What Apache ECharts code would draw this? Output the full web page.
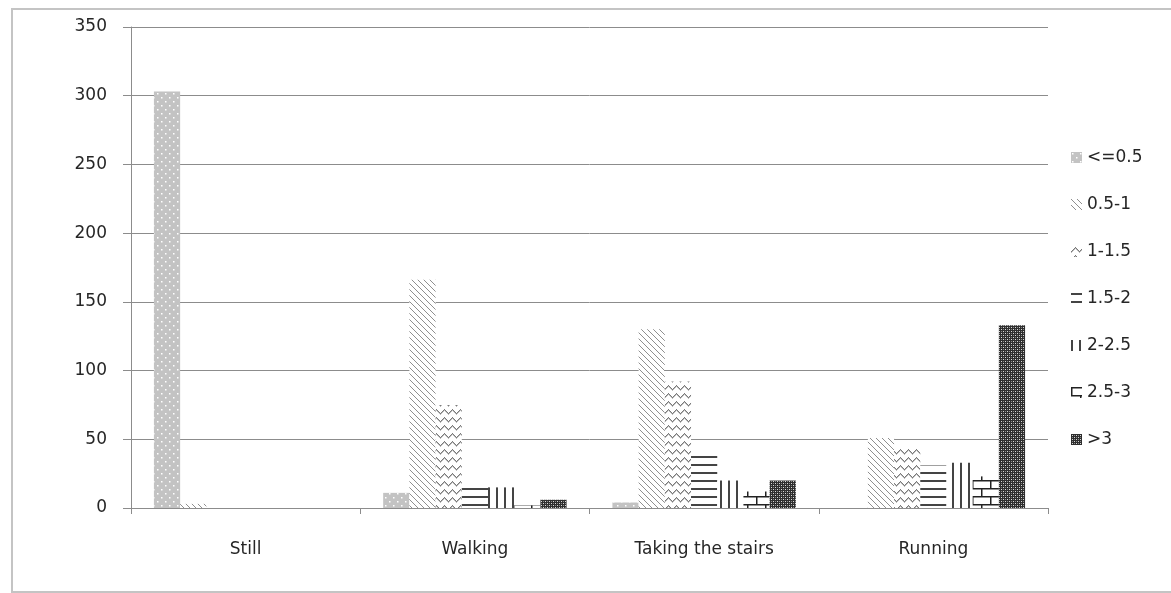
<!DOCTYPE html>
<html>
<head>
<meta charset="utf-8">
<script src="https://cdn.jsdelivr.net/npm/echarts@6/dist/echarts.min.js"></script>
<style>
  html, body { margin: 0; padding: 0; background: #fff; }
  #chart { width: 1171px; height: 593px; }
</style>
</head>
<body>
<div id="chart"></div>
<script>
// Activity categories and counts per speed band
const categories = ['Still', 'Walking', 'Taking the stairs', 'Running'];
const bandNames = ['<=0.5', '0.5-1', '1-1.5', '1.5-2', '2-2.5', '2.5-3', '>3'];

const bandLe05  = [303, 11, 4, 0];
const band05to1 = [3, 166, 130, 51];
const band1to15 = [0, 75, 92, 44];
const band15to2 = [0, 18, 42, 31];
const band2to25 = [0, 15, 20, 33];
const band25to3 = [0, 2, 12, 23];
const bandGt3   = [0, 6, 20, 133];

const yTicks = [0, 50, 100, 150, 200, 250, 300, 350];

// Monochrome fill patterns, one per speed band
function tile(w, h, draw) {
  const c = document.createElement('canvas');
  c.width = w; c.height = h;
  const g = c.getContext('2d');
  draw(g, w, h);
  return { image: c, repeat: 'repeat' };
}

const patterns = [
  // light grey with white dots
  tile(8, 8, (g) => {
    g.fillStyle = '#c3c3c3'; g.fillRect(0, 0, 8, 8);
    g.fillStyle = '#ffffff';
    g.fillRect(1, 1, 1.5, 1.5); g.fillRect(5, 5, 1.5, 1.5);
  }),
  // thin diagonal hatching
  tile(6, 6, (g) => {
    g.fillStyle = '#ffffff'; g.fillRect(0, 0, 6, 6);
    g.fillStyle = '#8f8f8f';
    for (let i = 0; i < 6; i++) g.fillRect(i, i, 1, 1);
  }),
  // zigzag chevrons
  tile(8, 8, (g) => {
    g.fillStyle = '#ffffff'; g.fillRect(0, 0, 8, 8);
    g.fillStyle = '#7a7a7a';
    for (let x = 0; x < 8; x++) g.fillRect(x, 1 + Math.abs(x - 4), 1, 1.5);
  }),
  // horizontal rules
  tile(8, 8, (g) => {
    g.fillStyle = '#ffffff'; g.fillRect(0, 0, 8, 8);
    g.fillStyle = '#444444'; g.fillRect(0, 0, 8, 2);
  }),
  // vertical rules
  tile(8, 8, (g) => {
    g.fillStyle = '#ffffff'; g.fillRect(0, 0, 8, 8);
    g.fillStyle = '#444444'; g.fillRect(0, 0, 2, 8);
  }),
  // brick outline
  tile(18, 16, (g) => {
    g.fillStyle = '#ffffff'; g.fillRect(0, 0, 18, 16);
    g.fillStyle = '#222222';
    g.fillRect(0, 0, 18, 1.5); g.fillRect(0, 8, 18, 1.5);
    g.fillRect(0, 0, 1.5, 8); g.fillRect(9, 8, 1.5, 8);
  }),
  // dense dark checker
  tile(4, 4, (g) => {
    g.fillStyle = '#2e2e2e'; g.fillRect(0, 0, 4, 4);
    g.fillStyle = '#d8d8d8'; g.fillRect(1, 1, 1, 1); g.fillRect(3, 3, 1, 1);
    g.fillStyle = '#8a8a8a'; g.fillRect(1, 3, 1, 1); g.fillRect(3, 1, 1, 1);
  })
];

const bandValues = [bandLe05, band05to1, band1to15, band15to2, band2to25, band25to3, bandGt3];

const textColor = '#262626';
const fontFamily = '"DejaVu Sans", Verdana, sans-serif';
const fontSize = 17;

const chart = echarts.init(document.getElementById('chart'), null, { renderer: 'canvas' });

chart.setOption({
  backgroundColor: '#ffffff',
  animation: false,
  graphic: [{
    type: 'rect',
    shape: { x: 12, y: 9, width: 1180, height: 583 },
    style: { fill: 'none', stroke: '#c4c4c4', lineWidth: 2 },
    silent: true, z: -1
  }],
  grid: { left: 131, right: 123, top: 27, bottom: 85, containLabel: false },
  legend: {
    orient: 'vertical',
    left: 1066,
    top: 144,
    itemWidth: 11,
    itemHeight: 11,
    itemGap: 30,
    icon: 'rect',
    textStyle: { color: textColor, fontFamily: fontFamily, fontSize: fontSize },
    data: bandNames
  },
  xAxis: {
    type: 'category',
    data: categories,
    axisLine: { lineStyle: { color: '#8c8c8c', width: 1 } },
    axisTick: { show: true, length: 6, lineStyle: { color: '#8c8c8c' } },
    axisLabel: { color: textColor, fontFamily: fontFamily, fontSize: fontSize, margin: 33 },
    splitLine: { show: false }
  },
  yAxis: {
    type: 'value',
    min: 0,
    max: yTicks[yTicks.length - 1],
    interval: yTicks[1] - yTicks[0],
    axisLine: { show: true, lineStyle: { color: '#8c8c8c', width: 1 } },
    axisTick: { show: true, length: 8, lineStyle: { color: '#8c8c8c' } },
    axisLabel: { color: textColor, fontFamily: fontFamily, fontSize: fontSize, margin: 24 },
    splitLine: { show: true, lineStyle: { color: '#8c8c8c', width: 1 } }
  },
  series: bandNames.map((name, i) => ({
    name: name,
    type: 'bar',
    data: bandValues[i],
    barGap: '0%',
    barCategoryGap: '20%',
    itemStyle: { color: patterns[i] },
    emphasis: { disabled: true }
  }))
});
</script>
</body>
</html>
